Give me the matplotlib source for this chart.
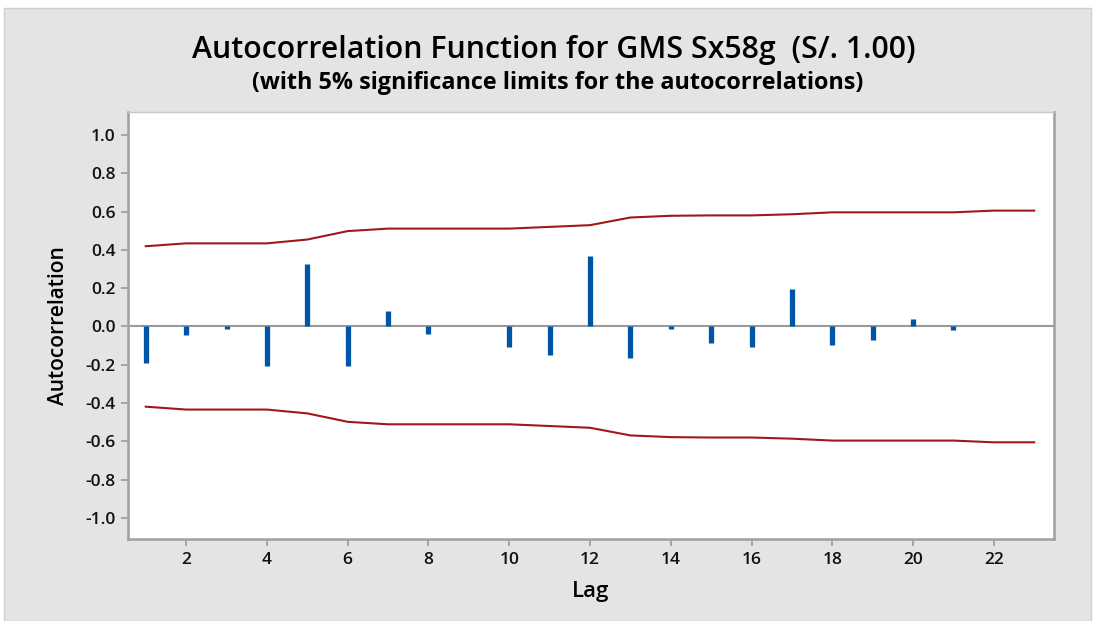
import matplotlib
matplotlib.use("Agg")
import matplotlib.pyplot as plt
from matplotlib.patches import Rectangle

# ACF values
lags = list(range(1, 24))
acf = [-0.19, -0.044, -0.013, -0.206, 0.325, -0.206, 0.081, -0.039, 0.0, -0.105,
       -0.147, 0.368, -0.164, -0.013, -0.089, -0.105, 0.198, -0.096, -0.072, 0.038,
       -0.02, 0.0, 0.0]
# 5% significance limits (upper; lower is the negative)
limit = [0.419, 0.434, 0.434, 0.434, 0.454, 0.498, 0.511, 0.511, 0.511, 0.511,
         0.520, 0.529, 0.569, 0.578, 0.580, 0.580, 0.586, 0.596, 0.596, 0.596,
         0.596, 0.605, 0.605]
yticks = [-1.0, -0.8, -0.6, -0.4, -0.2, 0.0, 0.2, 0.4, 0.6, 0.8, 1.0]
xticks = [2, 4, 6, 8, 10, 12, 14, 16, 18, 20, 22]

plt.rcParams['font.family'] = ['Open Sans', 'DejaVu Sans']

fig = plt.figure(figsize=(10.95, 6.21), dpi=100, facecolor='white')
# gray panel behind the chart
fig.patches.append(Rectangle((4 / 1095, 0), 1087 / 1095, 1 - 8 / 621,
                             transform=fig.transFigure, facecolor='#e4e4e4',
                             edgecolor='#cfcfcf', linewidth=1.0, zorder=-10))

ax = fig.add_axes([128 / 1095, 1 - 539 / 621, 926 / 1095, 427 / 621])
ax.set_facecolor('white')

ax.axhline(0, color='#9a9a9a', linewidth=1.5, zorder=1)
ax.vlines(lags, 0, acf, color='#0055a8', linewidth=3.8, zorder=3)
ax.plot(lags, limit, color='#a01818', linewidth=1.5, zorder=2)
ax.plot(lags, [-v for v in limit], color='#a01818', linewidth=1.5, zorder=2)

ax.set_xlim(0.56, 23.49)
ax.set_ylim(-1.11, 1.12)
ax.set_xticks(xticks)
ax.set_yticks(yticks)
ax.set_yticklabels(['%.1f' % v for v in yticks])

for side in ['left', 'bottom', 'right']:
    ax.spines[side].set_color('#a0a0a0')
    ax.spines[side].set_linewidth(1.8)
ax.spines['top'].set_color('#c8c8c8')
ax.spines['top'].set_linewidth(1.0)
ax.tick_params(axis='both', color='#a0a0a0', width=1.3, length=5,
               labelsize=12.5, labelcolor='#111111', pad=4)
for lab in ax.get_xticklabels() + ax.get_yticklabels():
    lab.set_fontweight('semibold')

ax.set_xlabel('Lag', fontsize=16, fontweight='semibold', labelpad=10)
ax.set_ylabel('Autocorrelation', fontsize=15, fontweight='semibold', labelpad=12)

fig.text(0.506, 0.919, 'Autocorrelation Function for GMS Sx58g  (S/. 1.00)',
         ha='center', va='center', fontsize=21.8, fontweight='semibold')
fig.text(0.509, 0.867, '(with 5% significance limits for the autocorrelations)',
         ha='center', va='center', fontsize=16.8, fontweight='bold')

fig.savefig('out.png', dpi=100, facecolor=fig.get_facecolor())
